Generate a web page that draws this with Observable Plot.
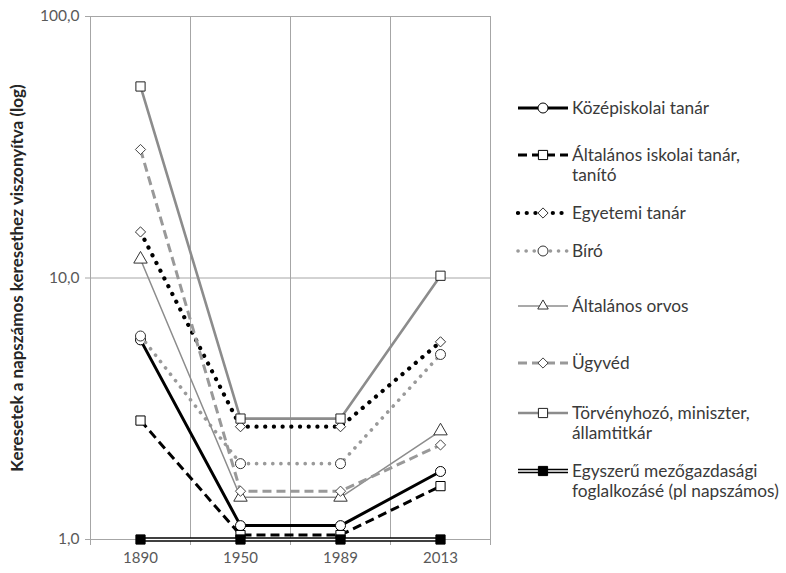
<!DOCTYPE html>
<html><head><meta charset="utf-8">
<script src="https://cdn.jsdelivr.net/npm/d3@7"></script>
<script src="https://cdn.jsdelivr.net/npm/@observablehq/plot@0.6"></script>
<style>
body{margin:0;background:#fff;font-family:Lato,"Open Sans",sans-serif;}
#wrap{position:relative;width:786px;height:573px;overflow:hidden;}
.leg{position:absolute;left:516px;display:flex;align-items:flex-start;font-size:17.3px;color:#3a3a3a;line-height:20px;}
.leg svg{flex:none;}
.leg div{margin-left:2px;width:220px;white-space:nowrap;}
</style></head><body><div id="wrap"></div>
<script>
// ---- data ----
const years = ["1890", "1950", "1989", "2013"];
const seriesNames = [
  "Középiskolai tanár",
  "Általános iskolai tanár, tanító",
  "Egyetemi tanár",
  "Bíró",
  "Általános orvos",
  "Ügyvéd",
  "Törvényhozó, miniszter, államtitkár",
  "Egyszerű mezőgazdasági foglalkozásé (pl napszámos)"
];
const legendLines = [
  ["Középiskolai tanár"],
  ["Általános iskolai tanár,", "tanító"],
  ["Egyetemi tanár"],
  ["Bíró"],
  ["Általános orvos"],
  ["Ügyvéd"],
  ["Törvényhozó, miniszter,", "államtitkár"],
  ["Egyszerű mezőgazdasági", "foglalkozásé (pl napszámos)"]
];
const kozepiskolai = [5.8, 1.13, 1.13, 1.82];
const altalanosIskolai = [2.85, 1.04, 1.04, 1.6];
const egyetemi = [15.0, 2.7, 2.7, 5.7];
const biro = [6.0, 1.95, 1.95, 5.1];
const orvos = [11.8, 1.45, 1.45, 2.6];
const ugyved = [31.0, 1.53, 1.53, 2.3];
const torvenyhozo = [54.0, 2.9, 2.9, 10.2];
const napszamos = [1, 1, 1, 1];
const yTicks = [1, 10, 100];
const yLabel = "Keresetek a napszámos keresethez viszonyítva (log)";

const seriesValues = [kozepiskolai, altalanosIskolai, egyetemi, biro, orvos, ugyved, torvenyhozo, napszamos];

// ---- styles ----
const styles = [
  {stroke:"#000", w:3, dash:null, cap:"butt", symbol:"circle", r:5, mfill:"#fff", mstroke:"#000"},
  {stroke:"#000", w:3, dash:"9,5", cap:"butt", symbol:"square", r:5.2, mfill:"#fff", mstroke:"#000"},
  {stroke:"#000", w:4.2, dash:"0.1,8.6", cap:"round", symbol:"diamond2", r:4.6, mfill:"#fff", mstroke:"#333"},
  {stroke:"#9a9a9a", w:3.6, dash:"0.1,8", cap:"round", symbol:"circle", r:5, mfill:"#fff", mstroke:"#333"},
  {stroke:"#8c8c8c", w:1.5, dash:null, cap:"butt", symbol:"triangle", r:5, mfill:"#fff", mstroke:"#333"},
  {stroke:"#999", w:3, dash:"9,5", cap:"butt", symbol:"diamond2", r:4.6, mfill:"#fff", mstroke:"#444"},
  {stroke:"#8c8c8c", w:2.6, dash:null, cap:"butt", symbol:"square", r:5.2, mfill:"#fff", mstroke:"#222"},
  {stroke:"#000", w:4.6, dash:null, cap:"butt", symbol:"square", r:5.2, mfill:"#000", mstroke:"#000", double:true}
];

const rows = [];
seriesValues.forEach((vals, s) => vals.forEach((v, i) => rows.push({s, name: seriesNames[s], i, v})));

const grid = "#a6a6a6";
const marks = [
  Plot.ruleY(yTicks, {stroke: grid, strokeWidth: 1, insetLeft: -5}),
  Plot.ruleX([0.5, 1.5, 2.5, 3.5], {stroke: grid, strokeWidth: 1, insetBottom: -6}),
  Plot.ruleX([-0.5], {stroke: grid, strokeWidth: 1, insetBottom: -6}),
  Plot.axisY(yTicks, {tickFormat: d => d3.format(".1f")(d).replace(".", ","), tickSize: 0, tickPadding: 11, fontSize: 15.5, fill: "#595959", label: null}),
  Plot.axisX([0, 1, 2, 3], {tickFormat: i => years[i], tickSize: 0, tickPadding: 13, fontSize: 15, fill: "#595959", label: null}),
  Plot.text([yLabel], {text: d => d, frameAnchor: "left", textAnchor: "middle", rotate: -90, dx: -73, fontSize: 17, fontWeight: "bold", fill: "#262626"})
];
styles.forEach((st, s) => {
  const data = rows.filter(d => d.s === s);
  marks.push(Plot.line(data, {x: "i", y: "v", stroke: st.stroke, strokeWidth: st.w, strokeDasharray: st.dash, strokeLinecap: st.cap}));
  if (st.double) marks.push(Plot.line(data, {x: "i", y: "v", stroke: "#fff", strokeWidth: 1.6}));
  marks.push(Plot.dot(data, {x: "i", y: "v", symbol: st.symbol, r: st.r, fill: st.mfill, stroke: st.mstroke, strokeWidth: 1}));
});

const chart = Plot.plot({
  width: 786, height: 573,
  marginLeft: 90, marginRight: 296, marginTop: 16, marginBottom: 34,
  x: {type: "linear", domain: [-0.5, 3.5]},
  y: {type: "log", domain: [1, 100]},
  style: {fontFamily: "Lato, 'Open Sans', sans-serif", background: "white", overflow: "visible"},
  marks
});
const wrap = document.getElementById("wrap");
wrap.appendChild(chart);

// ---- legend ----
const legTops = [98, 145, 203, 241, 296, 353, 403, 461];
const symMap = {circle: d3.symbolCircle, square: d3.symbolSquare, diamond2: d3.symbolDiamond2, triangle: d3.symbolTriangle2};
styles.forEach((st, s) => {
  const div = document.createElement("div");
  div.className = "leg";
  div.style.top = legTops[s] + "px";
  wrap.appendChild(div);
  const svg = d3.select(div).append("svg").attr("width", 54).attr("height", 20);
  svg.append("line").attr("x1", 2).attr("x2", 52).attr("y1", 10).attr("y2", 10)
    .attr("stroke", st.stroke).attr("stroke-width", st.w).attr("stroke-dasharray", st.dash).attr("stroke-linecap", st.cap);
  if (st.double) svg.append("line").attr("x1", 2).attr("x2", 52).attr("y1", 10).attr("y2", 10).attr("stroke", "#fff").attr("stroke-width", 1.6);
  svg.append("path").attr("d", d3.symbol(symMap[st.symbol], Math.PI * st.r * st.r)())
    .attr("transform", "translate(27,10)").attr("fill", st.mfill).attr("stroke", st.mstroke).attr("stroke-width", 1);
  const t = document.createElement("div");
  t.innerHTML = legendLines[s].join("<br>");
  div.appendChild(t);
});
</script></body></html>
